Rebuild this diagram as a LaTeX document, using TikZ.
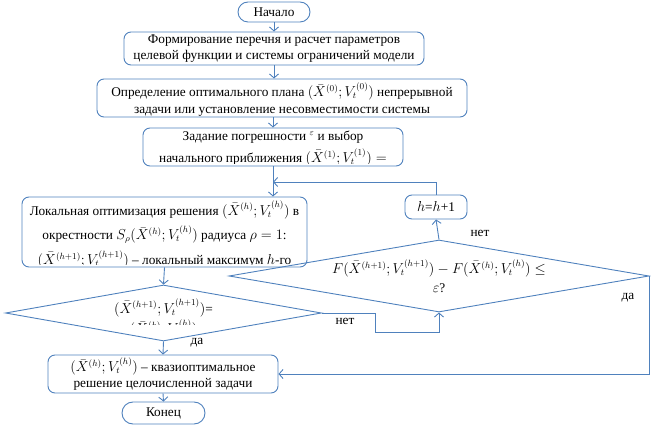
\documentclass[tikz,border=0pt]{standalone}
\usepackage{fontspec}
\setmainfont{Liberation Serif}
\usetikzlibrary{arrows.meta,shapes.geometric}
\definecolor{lblue}{RGB}{79,129,189}
\newcommand{\fs}{\fontsize{13.3}{15.5}\selectfont}
\newcommand{\XV}[1]{\bigl(\bar X^{(#1)}; V_t^{(#1)}\bigr)}
\tikzset{
  ln/.style={draw=lblue, line width=0.9pt},
  arr/.style={ln, -{Straight Barb[length=4pt,width=9pt]}},
  rbox/.style={draw=lblue, line width=0.9pt, rounded corners=7pt, inner sep=0pt},
  dia/.style={draw=lblue, line width=0.9pt, diamond, inner sep=0pt},
  txt/.style={font=\fs, align=center, inner sep=0pt, text=black},
  lbl/.style={font=\fs, inner sep=0pt}
}
\begin{document}
\begin{tikzpicture}[x=1pt,y=-1pt]
\useasboundingbox (0,0) rectangle (651,427);
% boxes
\node[rbox, txt, rounded corners=10pt, minimum width=72pt, minimum height=20pt] (start) at (274,12) {Начало};
\node[rbox, txt, minimum width=300pt, minimum height=33pt] (b1) at (274,48.5)
  {Формирование перечня и расчет параметров\\целевой функции и системы ограничений модели};
\node[rbox, minimum width=370pt, minimum height=38pt] (b2) at (282,98) {};
\node[txt] (t2) at (282,99.5)
  {Определение оптимального плана $\XV{0}$ непрерывной\\[1pt]задачи или установление несовместимости системы};
\node[rbox, minimum width=260pt, minimum height=38pt] (b3) at (273,147) {};
\begin{scope}
  \clip (145,129) rectangle (401,163.5);
  \node[txt, anchor=north] (t3) at (273,131)
    {Задание погрешности $^{\varepsilon}$ и выбор\\[4pt]начального приближения $\XV{1} =$};
\end{scope}
\node[rbox, minimum width=285pt, minimum height=70pt] (b4) at (164.5,232) {};
\begin{scope}
  \clip (24,198) rectangle (305,264.5);
  \node[txt, anchor=north] (t4) at (164.5,201)
    {Локальная оптимизация решения $\XV{h}$ в\\[6pt]окрестности $S_\rho\XV{h}$ радиуса $\rho = 1$:\\[6pt]$\XV{h+1}$ – локальный максимум $h$-го};
\end{scope}
\node[rbox, txt, minimum width=62pt, minimum height=24pt] (hb) at (436,207) {$h$=$h$+1};
\node[dia, minimum width=420pt, minimum height=72pt] (d2) at (439,276) {};
\node[txt] (t5) at (439,276)
  {$F\XV{h+1} - F\XV{h} \le$\\[3pt]$\varepsilon$?};
\node[dia, minimum width=316pt, minimum height=56pt] (d1) at (163.5,313) {};
\begin{scope}
  \clip (60,290) rectangle (270,325);
  \node[txt, anchor=north] (t6) at (163.5,299) {$\XV{h+1}$=\\[2pt]$\XV{h}$};
\end{scope}
\node[rbox, txt, minimum width=230pt, minimum height=38pt] (b5) at (163,374)
  {$\XV{h}$ – квазиоптимальное\\решение целочисленной задачи};
\node[rbox, txt, rounded corners=11pt, minimum width=83pt, minimum height=22pt] (end) at (163.5,413) {Конец};
% labels
\node[lbl] (l1) at (480,233) {нет};
\node[lbl] (l2) at (628,298) {да};
\node[lbl] (l3) at (345,321) {нет};
\node[lbl] (l4) at (197,343) {да};
% connectors
\coordinate (j) at (273,182);
\coordinate (k1) at (375,332);
\draw[arr] (start) -- (b1);
\draw[arr] (b1.south) -- (b1.south |- b2.north);
\draw[arr] (b2.south -| b3.north) -- (b3.north);
\draw[arr] (b3.south) -- (b3.south |- b4.north);
\draw[arr] (hb.north) |- (j);
\draw[arr] (d2.north) -- (hb.south);
\draw[arr] (b4.south) -- (d1.north);
\draw[arr] (d1.east) -| (k1) -| (d2.south);
\draw[arr] (d2.east) |- (b5.east);
\draw[arr] (d1.south) -- (b5.north);
\draw[arr] (b5.south) -- (end.north);
\end{tikzpicture}
\end{document}
